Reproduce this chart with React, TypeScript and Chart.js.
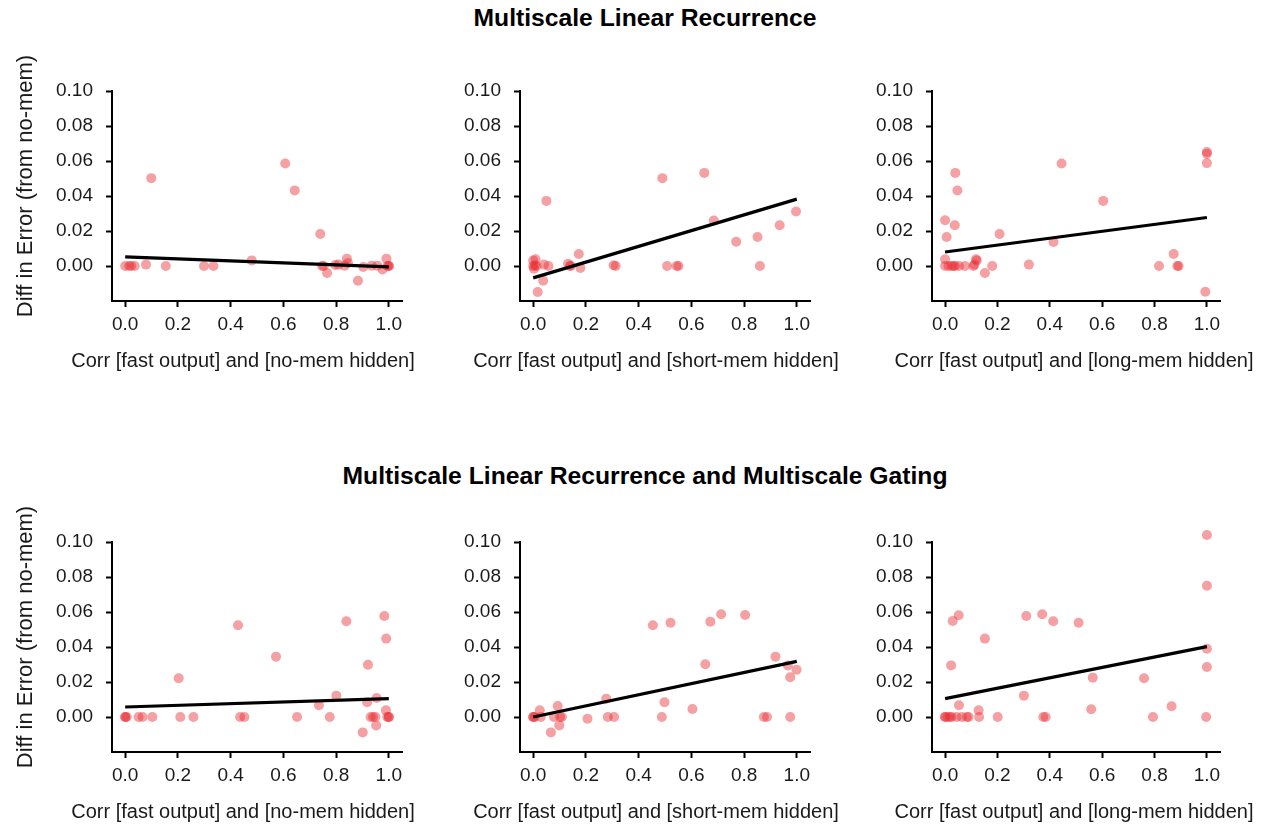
import React, { useEffect, useRef } from "react";
import { Chart, registerables } from "chart.js";

Chart.register(...registerables);

// ---------- data ----------
const X_TICKS = [0, 0.2, 0.4, 0.6, 0.8, 1.0];
const Y_TICKS = [0, 0.02, 0.04, 0.06, 0.08, 0.1];

const TITLE_TOP = "Multiscale Linear Recurrence";
const TITLE_BOTTOM = "Multiscale Linear Recurrence and Multiscale Gating";
const Y_LABEL = "Diff in Error (from no-mem)";
const X_LABEL_NO = "Corr [fast output] and [no-mem hidden]";
const X_LABEL_SHORT = "Corr [fast output] and [short-mem hidden]";
const X_LABEL_LONG = "Corr [fast output] and [long-mem hidden]";

// Panel A: linear recurrence, no-mem
const xA = [0.0, 0.015, 0.023, 0.036, 0.079, 0.099, 0.154, 0.299, 0.335, 0.48, 0.607, 0.643, 0.74, 0.747, 0.753, 0.766, 0.797, 0.809, 0.832, 0.841, 0.845, 0.883, 0.903, 0.935, 0.956, 0.976, 0.991, 0.995, 1.0, 1.0];
const yA = [0, 0, 0, 0, 0.0008, 0.0502, 0, 0, 0, 0.0032, 0.0586, 0.0432, 0.0183, 0, 0, -0.004, 0.0006, 0.0008, 0.0002, 0.0042, 0.0017, -0.0084, -0.0006, 0.0002, 0.0002, -0.002, 0.0042, 0, 0, 0];
const fitA = [[0, 0.0052], [1.0, -0.0005]];

// Panel B: linear recurrence, short-mem
const xB = [0.0, 0.0, 0.009, 0.003, 0.006, 0.013, 0.017, 0.038, 0.041, 0.05, 0.058, 0.132, 0.14, 0.142, 0.173, 0.179, 0.305, 0.313, 0.49, 0.508, 0.544, 0.551, 0.649, 0.685, 0.77, 0.851, 0.86, 0.935, 0.997];
const yB = [0, 0.0032, 0.0038, -0.0015, 0.0004, 0, -0.0149, -0.0084, 0.0008, 0.0372, 0, 0.0013, 0.0002, 0, 0.0069, -0.0011, 0.0004, 0, 0.0502, 0, 0, 0, 0.0532, 0.026, 0.0139, 0.0166, 0, 0.0233, 0.0311];
const fitB = [[0, -0.0068], [1.0, 0.0382]];

// Panel C: linear recurrence, long-mem
const xC = [0.0, 0.006, 0.0, 0.0, 0.013, 0.025, 0.032, 0.038, 0.039, 0.047, 0.037, 0.053, 0.076, 0.108, 0.112, 0.118, 0.121, 0.152, 0.18, 0.208, 0.32, 0.414, 0.445, 0.604, 0.817, 0.873, 0.887, 0.892, 0.994, 1.0, 1.0, 1.0];
const yC = [0.0261, 0.0166, 0.0038, 0, 0, 0, 0, 0, 0.0532, 0.0431, 0.0233, 0, 0, 0, 0.0008, 0.0038, 0.0032, -0.004, 0, 0.0183, 0.0008, 0.0137, 0.0586, 0.0372, 0, 0.0069, 0, 0, -0.0147, 0.0641, 0.0651, 0.0588];
const fitC = [[0, 0.008], [1.0, 0.0277]];

// Panel D: recurrence + gating, no-mem
const xD = [0.0, 0.0, 0.006, 0.051, 0.066, 0.103, 0.203, 0.209, 0.259, 0.428, 0.436, 0.452, 0.572, 0.652, 0.735, 0.776, 0.801, 0.839, 0.901, 0.918, 0.921, 0.931, 0.94, 0.949, 0.954, 0.952, 0.983, 0.99, 0.989, 0.994, 1.0, 1.0];
const yD = [0, 0, 0, 0, 0, 0, 0.0221, 0, 0, 0.0524, 0, 0, 0.0345, 0, 0.0067, 0, 0.0122, 0.0547, -0.0088, 0.0084, 0.0299, 0, 0, 0, 0.0109, -0.0048, 0.0577, 0.0448, 0.0038, 0, 0, 0];
const fitD = [[0, 0.0057], [1.0, 0.0105]];

// Panel E: recurrence + gating, short-mem
const xE = [0.0, 0.0, 0.006, 0.025, 0.029, 0.067, 0.079, 0.093, 0.099, 0.102, 0.109, 0.206, 0.277, 0.283, 0.307, 0.454, 0.488, 0.498, 0.521, 0.604, 0.653, 0.672, 0.713, 0.804, 0.875, 0.887, 0.919, 0.966, 0.975, 0.975, 0.999];
const yE = [0, 0, 0, 0.0038, 0, -0.0088, 0, 0.0063, -0.0048, 0, 0, -0.001, 0.0105, 0, 0, 0.0524, 0, 0.0084, 0.0539, 0.0046, 0.0301, 0.0545, 0.0587, 0.0583, 0, 0, 0.0345, 0.0295, 0.0227, 0, 0.027];
const fitE = [[0, 0.0], [1.0, 0.0318]];

// Panel F: recurrence + gating, long-mem
const xF = [0.0, 0.0, 0.01, 0.019, 0.025, 0.044, 0.064, 0.083, 0.09, 0.023, 0.029, 0.052, 0.053, 0.128, 0.13, 0.152, 0.201, 0.301, 0.31, 0.371, 0.375, 0.384, 0.413, 0.51, 0.558, 0.564, 0.76, 0.794, 0.865, 0.997, 1.0, 1.0, 1.0, 1.0];
const yF = [0, 0, 0, 0, 0, 0, 0, 0, 0, 0.0295, 0.0549, 0.0581, 0.0067, 0.0038, 0, 0.0448, 0, 0.0122, 0.0577, 0.0587, 0, 0, 0.0547, 0.0539, 0.0044, 0.0225, 0.0221, 0, 0.0061, 0, 0.104, 0.075, 0.039, 0.0286];
const fitF = [[0, 0.0105], [1.0, 0.0402]];

// ---------- styling ----------
const FONT_FAMILY = "'Liberation Sans', Arial, Helvetica, sans-serif";
const TEXT_COLOR = "#1a1a1a";
const POINT_COLOR = "rgba(232, 44, 52, 0.45)";
const POINT_RADIUS = 5;
const TICK_FONT = 19;
const XLABEL_FONT = 20;
const YLABEL_FONT = 22;
const AXIS_H = 75;
const PAD_TOP = 31;
const AREA_H = 210;

// Draws scatter points that lie outside the chart area (matplotlib clip_on=False look)
const outsidePointsPlugin = {
  id: "outsidePoints",
  afterDatasetsDraw(chart: any) {
    const meta = chart.getDatasetMeta(1);
    const a = chart.chartArea;
    const m = POINT_RADIUS;
    const ctx = chart.ctx;
    ctx.save();
    (meta.data || []).forEach((el: any) => {
      const inside = el.x > a.left - m && el.x < a.right + m && el.y > a.top - m && el.y < a.bottom + m;
      if (!inside) el.draw(ctx);
    });
    ctx.restore();
  },
};

type PanelSpec = {
  xs: number[];
  ys: number[];
  fit: number[][];
  xLabel: string;
  showY: boolean;
  left: number;
  top: number;
  yWidth: number;
  areaW: number;
  rightPad: number;
  xLabelCx: number;
  xLabelCy: number;
};

const PANELS: PanelSpec[] = [
  { xs: xA, ys: yA, fit: fitA, xLabel: X_LABEL_NO, showY: true, left: 0, top: 60, yWidth: 112, areaW: 290, rightPad: 20, xLabelCx: 243, xLabelCy: 360 },
  { xs: xB, ys: yB, fit: fitB, xLabel: X_LABEL_SHORT, showY: false, left: 440, top: 60, yWidth: 80, areaW: 290, rightPad: 40, xLabelCx: 656, xLabelCy: 360 },
  { xs: xC, ys: yC, fit: fitC, xLabel: X_LABEL_LONG, showY: false, left: 852, top: 60, yWidth: 80, areaW: 288, rightPad: 45, xLabelCx: 1074, xLabelCy: 360 },
  { xs: xD, ys: yD, fit: fitD, xLabel: X_LABEL_NO, showY: true, left: 0, top: 511, yWidth: 112, areaW: 290, rightPad: 20, xLabelCx: 243, xLabelCy: 811 },
  { xs: xE, ys: yE, fit: fitE, xLabel: X_LABEL_SHORT, showY: false, left: 440, top: 511, yWidth: 80, areaW: 290, rightPad: 40, xLabelCx: 656, xLabelCy: 811 },
  { xs: xF, ys: yF, fit: fitF, xLabel: X_LABEL_LONG, showY: false, left: 852, top: 511, yWidth: 80, areaW: 288, rightPad: 45, xLabelCx: 1074, xLabelCy: 811 },
];

function buildConfig(p: PanelSpec): any {
  return {
    type: "scatter",
    data: {
      datasets: [
        {
          data: p.fit.map((pt) => ({ x: pt[0], y: pt[1] })),
          showLine: true,
          fill: false,
          borderColor: "#000000",
          borderWidth: 3.2,
          pointRadius: 0,
          order: 0,
        },
        {
          data: p.xs.map((x, i) => ({ x, y: p.ys[i] })),
          backgroundColor: POINT_COLOR,
          borderWidth: 0,
          pointRadius: POINT_RADIUS,
          clip: false,
          order: 1,
        },
      ],
    },
    plugins: [outsidePointsPlugin],
    options: {
      animation: false,
      responsive: false,
      events: [],
      layout: { padding: { top: PAD_TOP, right: p.rightPad, left: 0, bottom: 0 } },
      plugins: { legend: { display: false }, tooltip: { enabled: false }, title: { display: false } },
      scales: {
        x: {
          type: "linear",
          min: -0.05,
          max: 1.05,
          afterBuildTicks: (s: any) => {
            s.ticks = X_TICKS.map((v) => ({ value: v }));
          },
          afterFit: (s: any) => {
            s.height = AXIS_H;
          },
          border: { display: true, color: "#000", width: 2 },
          grid: { display: true, drawOnChartArea: false, drawTicks: true, tickLength: 6, tickWidth: 2, tickColor: "#000" },
          ticks: {
            autoSkip: false,
            maxRotation: 0,
            padding: 6,
            color: TEXT_COLOR,
            font: { family: FONT_FAMILY, size: TICK_FONT },
            callback: (v: number) => Number(v).toFixed(1),
          },
          title: { display: false },
        },
        y: {
          type: "linear",
          min: -0.02,
          max: 0.1,
          afterBuildTicks: (s: any) => {
            s.ticks = Y_TICKS.map((v) => ({ value: v }));
          },
          afterFit: (s: any) => {
            s.width = p.yWidth;
          },
          border: { display: true, color: "#000", width: 2 },
          grid: { display: true, drawOnChartArea: false, drawTicks: true, tickLength: 6, tickWidth: 2, tickColor: "#000" },
          ticks: {
            autoSkip: false,
            padding: 13,
            color: TEXT_COLOR,
            font: { family: FONT_FAMILY, size: TICK_FONT },
            callback: (v: number) => Number(v).toFixed(2),
          },
          title: { display: false },
        },
      },
    },
  };
}

function Panel({ spec }: { spec: PanelSpec }) {
  const ref = useRef<HTMLCanvasElement | null>(null);
  const width = spec.yWidth + spec.areaW + spec.rightPad;
  const height = PAD_TOP + AREA_H + AXIS_H;
  useEffect(() => {
    if (!ref.current) return;
    const chart = new Chart(ref.current, buildConfig(spec));
    return () => chart.destroy();
  }, [spec]);
  const areaTop = spec.top + PAD_TOP;
  return (
    <>
      <canvas
        ref={ref}
        width={width}
        height={height}
        style={{ position: "absolute", left: spec.left, top: spec.top, width, height, display: "block" }}
      />
      <div
        style={{
          position: "absolute",
          left: spec.xLabelCx - 300,
          width: 600,
          top: spec.xLabelCy - 12,
          height: 24,
          lineHeight: "24px",
          textAlign: "center",
          fontFamily: FONT_FAMILY,
          fontSize: XLABEL_FONT,
          color: TEXT_COLOR,
          whiteSpace: "nowrap",
        }}
      >
        {spec.xLabel}
      </div>
      {spec.showY && (
        <div
          style={{
            position: "absolute",
            left: 25 - 200,
            width: 400,
            top: areaTop + 95 - 13,
            height: 26,
            lineHeight: "26px",
            textAlign: "center",
            fontFamily: FONT_FAMILY,
            fontSize: YLABEL_FONT,
            color: TEXT_COLOR,
            whiteSpace: "nowrap",
            transform: "rotate(-90deg)",
            transformOrigin: "50% 50%",
          }}
        >
          {Y_LABEL}
        </div>
      )}
    </>
  );
}

const titleStyle = (top: number): React.CSSProperties => ({
  position: "absolute",
  left: 0,
  width: 1290,
  top,
  textAlign: "center",
  fontFamily: FONT_FAMILY,
  fontWeight: "bold",
  fontSize: 24.7,
  lineHeight: "28px",
  color: "#000",
  whiteSpace: "nowrap",
});

export default function App() {
  return (
    <div
      style={{
        position: "absolute",
        left: 0,
        top: 0,
        width: 1265,
        height: 829,
        overflow: "hidden",
        background: "#ffffff",
      }}
    >
      <div style={titleStyle(4)}>{TITLE_TOP}</div>
      <div style={titleStyle(462)}>{TITLE_BOTTOM}</div>
      {PANELS.map((p, i) => (
        <Panel key={i} spec={p} />
      ))}
    </div>
  );
}
